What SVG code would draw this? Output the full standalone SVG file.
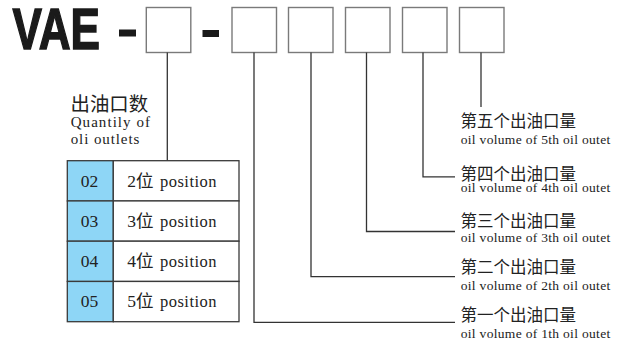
<svg xmlns="http://www.w3.org/2000/svg" width="618" height="342" viewBox="0 0 618 342">
<style>
.box{fill:#fff;stroke:#7a7a7a;stroke-width:1.4}
.ln{fill:none;stroke:#333;stroke-width:1.3}
.cell{fill:#fff;stroke:#3a3a3a;stroke-width:1.3}
.blue{fill:#8ed6f6;stroke:#3a3a3a;stroke-width:1.3}
.cn{font-family:"Noto Sans CJK SC","Noto Sans",sans-serif;fill:#222}
.en{font-family:"Liberation Serif","Noto Sans CJK SC",serif;fill:#222}
.num{font-family:"Liberation Serif",serif;fill:#222;font-size:17.5px;text-anchor:middle}
</style>
<rect width="618" height="342" fill="#fff"/>
<g id="title">
<text x="12.5" y="49.3" font-family="Liberation Sans" font-weight="bold" font-size="57" fill="#1a1a1a" stroke="#1a1a1a" stroke-width="1.5" textLength="87.5" lengthAdjust="spacingAndGlyphs">VAE</text>
<rect x="119" y="29.5" width="17" height="7" fill="#1a1a1a"/>
<rect x="202.5" y="30" width="16.5" height="7" fill="#1a1a1a"/>
</g>
<g id="boxes">
<rect class="box" x="146.3" y="7.5" width="44.5" height="45"/>
<rect class="box" x="232" y="7.5" width="44.5" height="45"/>
<rect class="box" x="288.5" y="7.5" width="44.5" height="45"/>
<rect class="box" x="345.5" y="7.5" width="44.5" height="45"/>
<rect class="box" x="402.5" y="7.5" width="44.5" height="45"/>
<rect class="box" x="459.5" y="7.5" width="44.5" height="45"/>
</g>
<g id="connectors">
<path class="ln" d="M167.3 52.5V160.7"/>
<path class="ln" d="M254 52.5V322.3H455"/>
<path class="ln" d="M311 52.5V276.7H455"/>
<path class="ln" d="M366.5 52.5V231.5H455"/>
<path class="ln" d="M423 52.5V176.8H455"/>
<path class="ln" d="M481 52.5V107"/>
</g>
<g id="quantity-label">
<text class="cn" x="70.5" y="110.5" font-size="19.4">出油口数</text>
<text class="en" x="70.7" y="126.7" font-size="15" textLength="79.3">Quantily of</text>
<text class="en" x="70.7" y="144" font-size="15" textLength="68.6">oli outlets</text>
</g>
<g id="table">
<rect class="blue" x="67.3" y="160.7" width="46" height="40.25"/>
<rect class="cell" x="113.3" y="160.7" width="125.7" height="40.25"/>
<rect class="blue" x="67.3" y="200.95" width="46" height="40.25"/>
<rect class="cell" x="113.3" y="200.95" width="125.7" height="40.25"/>
<rect class="blue" x="67.3" y="241.2" width="46" height="40.25"/>
<rect class="cell" x="113.3" y="241.2" width="125.7" height="40.25"/>
<rect class="blue" x="67.3" y="281.45" width="46" height="40.25"/>
<rect class="cell" x="113.3" y="281.45" width="125.7" height="40.25"/>
<text class="num" x="89.5" y="186.7">02</text>
<text class="num" x="89.5" y="226.7">03</text>
<text class="num" x="89.5" y="266.9">04</text>
<text class="num" x="89.5" y="306.9">05</text>
<text class="en" x="127.3" y="186.7" font-size="17.5">2<tspan class="cn">位</tspan><tspan x="160" font-size="16.5" textLength="56.5">position</tspan></text>
<text class="en" x="127.3" y="226.7" font-size="17.5">3<tspan class="cn">位</tspan><tspan x="160" font-size="16.5" textLength="56.5">position</tspan></text>
<text class="en" x="127.3" y="266.9" font-size="17.5">4<tspan class="cn">位</tspan><tspan x="160" font-size="16.5" textLength="56.5">position</tspan></text>
<text class="en" x="127.3" y="306.9" font-size="17.5">5<tspan class="cn">位</tspan><tspan x="160" font-size="16.5" textLength="56.5">position</tspan></text>
</g>
<g id="outlet5">
<text class="cn" x="460.5" y="127" font-size="16.5">第五个出油口量</text>
<text class="en" x="460.7" y="144" font-size="13.5" textLength="149.5">oil volume of 5th oil outet</text>
</g>
<g id="outlet4">
<text class="cn" x="460.5" y="179.5" font-size="16.5">第四个出油口量</text>
<text class="en" x="460.7" y="192.3" font-size="13.5" textLength="149.5">oil volume of 4th oil outet</text>
</g>
<g id="outlet3">
<text class="cn" x="460.5" y="227" font-size="16.5">第三个出油口量</text>
<text class="en" x="460.7" y="241.7" font-size="13.5" textLength="149.5">oil volume of 3th oil outet</text>
</g>
<g id="outlet2">
<text class="cn" x="460.5" y="272.5" font-size="16.5">第二个出油口量</text>
<text class="en" x="460.7" y="290" font-size="13.5" textLength="149.5">oil volume of 2th oil outet</text>
</g>
<g id="outlet1">
<text class="cn" x="460.5" y="320.5" font-size="16.5">第一个出油口量</text>
<text class="en" x="460.7" y="337.7" font-size="13.5" textLength="149.5">oil volume of 1th oil outet</text>
</g>
</svg>
